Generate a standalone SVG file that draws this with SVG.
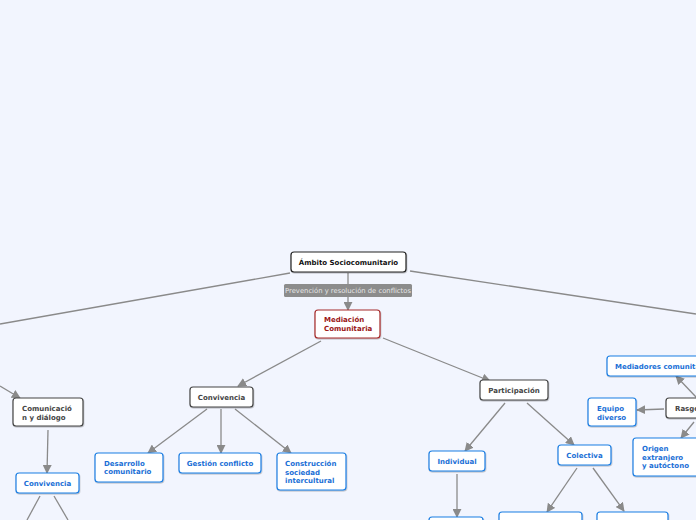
<svg xmlns="http://www.w3.org/2000/svg" width="696" height="520" viewBox="0 0 696 520">
<defs>
<marker id="ah" viewBox="0 0 10 10" refX="9" refY="5" markerWidth="9" markerHeight="9" markerUnits="userSpaceOnUse" orient="auto">
<path d="M0,0 L10,5 L0,10 z" fill="#8a8a8a"/>
</marker>
<filter id="sh" x="-10%" y="-10%" width="130%" height="140%">
<feDropShadow dx="0.5" dy="1" stdDeviation="0.6" flood-color="#000" flood-opacity="0.25"/>
</filter>
</defs>
<style>
.bg{fill:#f2f5fe}
.n rect{fill:#fff;stroke-width:1.2;filter:url(#sh)}
.dk rect{stroke:#444}
.bl rect{stroke:#1b7ee3}
.rd rect{stroke:#a52a2a}
text{font-family:"DejaVu Sans",Verdana,sans-serif;font-weight:bold;font-size:7px}
.dk text{fill:#444}
.bl text{fill:#1a6fd6}
.rd text{fill:#9b1515}
.root text{fill:#111}
.root rect{stroke:#222}
.c line{stroke:#8a8a8a;stroke-width:1.3;fill:none}
.c .a{marker-end:url(#ah)}
.lbl rect{fill:#8c8c8c}
.lbl text{fill:#e6e6e6;font-weight:normal;font-size:6.8px}
</style>
<rect class="bg" x="0" y="0" width="696" height="520"/>
<g id="connectors" class="c">
<line x1="290" y1="273" x2="0" y2="324"/>
<line x1="410" y1="271" x2="696" y2="314"/>
<line class="a" x1="348" y1="273" x2="348" y2="310"/>
<line class="a" x1="321" y1="341" x2="238" y2="386"/>
<line class="a" x1="383" y1="338" x2="490" y2="381"/>
<line class="a" x1="207" y1="409" x2="148" y2="453"/>
<line class="a" x1="221" y1="409" x2="221" y2="453"/>
<line class="a" x1="235" y1="409" x2="291" y2="453"/>
<line class="a" x1="0" y1="386" x2="20" y2="398"/>
<line class="a" x1="48" y1="430" x2="47" y2="473"/>
<line x1="40" y1="496" x2="27" y2="520"/>
<line x1="54" y1="496" x2="68" y2="520"/>
<line class="a" x1="505" y1="403" x2="465" y2="451"/>
<line class="a" x1="527" y1="403" x2="574" y2="445"/>
<line class="a" x1="457" y1="474" x2="457" y2="517"/>
<line class="a" x1="577" y1="468" x2="547" y2="512"/>
<line class="a" x1="593" y1="468" x2="624" y2="511"/>
<line class="a" x1="664" y1="409" x2="637" y2="410"/>
<line class="a" x1="697" y1="398" x2="676" y2="376"/>
<line class="a" x1="694" y1="422" x2="681" y2="438"/>
</g>
<g id="label-prevencion" class="lbl">
<rect x="284" y="284" width="128" height="13" rx="1.5"/>
<text x="348" y="293" text-anchor="middle">Prevención y resolución de conflictos</text>
</g>
<g id="root" class="n root">
<rect x="291" y="252" width="115" height="20" rx="3"/>
<text x="348.5" y="264.5" text-anchor="middle">Ámbito Sociocomunitario</text>
</g>
<g id="mediacion" class="n rd">
<rect x="315" y="310" width="65" height="28" rx="3"/>
<text x="324" y="322">Mediación</text>
<text x="324" y="331">Comunitaria</text>
</g>
<g id="convivencia" class="n dk">
<rect x="190" y="387" width="63" height="20" rx="3"/>
<text x="221.5" y="399.5" text-anchor="middle">Convivencia</text>
</g>
<g id="desarrollo" class="n bl">
<rect x="95" y="453" width="68" height="29" rx="3"/>
<text x="104" y="466">Desarrollo</text>
<text x="104" y="474">comunitario</text>
</g>
<g id="gestion" class="n bl">
<rect x="179" y="453" width="82" height="20" rx="3"/>
<text x="220" y="466" text-anchor="middle">Gestión conflicto</text>
</g>
<g id="construccion" class="n bl">
<rect x="277" y="453" width="69" height="37" rx="3"/>
<text x="285" y="466">Construcción</text>
<text x="285" y="474.5">sociedad</text>
<text x="285" y="483">intercultural</text>
</g>
<g id="comunicacion" class="n dk">
<rect x="13" y="398" width="70" height="28" rx="3"/>
<text x="22" y="411">Comunicació</text>
<text x="22" y="419.5">n y diálogo</text>
</g>
<g id="convivencia2" class="n bl">
<rect x="16" y="473" width="63" height="20" rx="3"/>
<text x="47.5" y="486" text-anchor="middle">Convivencia</text>
</g>
<g id="participacion" class="n dk">
<rect x="480" y="380" width="68" height="20" rx="3"/>
<text x="514" y="393" text-anchor="middle">Participación</text>
</g>
<g id="individual" class="n bl">
<rect x="429" y="451" width="56" height="20" rx="3"/>
<text x="457" y="464" text-anchor="middle">Individual</text>
</g>
<g id="individual-child" class="n bl">
<rect x="429" y="517" width="54" height="20" rx="3"/>
</g>
<g id="colectiva" class="n bl">
<rect x="558" y="445" width="53" height="20" rx="3"/>
<text x="584.5" y="458" text-anchor="middle">Colectiva</text>
</g>
<g id="colectiva-child1" class="n bl">
<rect x="499" y="512" width="83" height="20" rx="3"/>
</g>
<g id="colectiva-child2" class="n bl">
<rect x="597" y="512" width="71" height="20" rx="3"/>
</g>
<g id="rasgos" class="n dk">
<rect x="666" y="398" width="40" height="20" rx="3"/>
<text x="675" y="411">Rasgos</text>
</g>
<g id="mediadores" class="n bl">
<rect x="607" y="356" width="100" height="20" rx="3"/>
<text x="615" y="369">Mediadores comunitarios</text>
</g>
<g id="equipo" class="n bl">
<rect x="588" y="398" width="48" height="28" rx="3"/>
<text x="597" y="411">Equipo</text>
<text x="597" y="419.5">diverso</text>
</g>
<g id="origen" class="n bl">
<rect x="633" y="438" width="70" height="38" rx="3"/>
<text x="642" y="451">Origen</text>
<text x="642" y="459.5">extranjero</text>
<text x="642" y="468">y autóctono</text>
</g>
</svg>
